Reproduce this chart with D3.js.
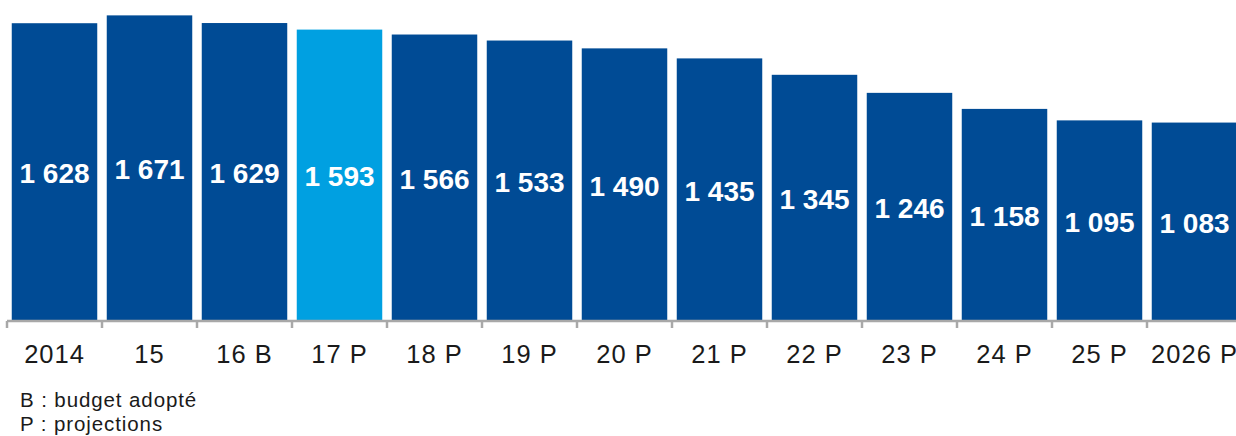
<!DOCTYPE html>
<html>
<head>
<meta charset="utf-8">
<script src="https://cdn.jsdelivr.net/npm/d3@7"></script>
<style>
  html, body { margin: 0; padding: 0; background: #fff; }
  svg { display: block; }
</style>
</head>
<body>
<svg id="chart" width="1236" height="436"></svg>
<script>
const categories = ["2014", "15", "16 B", "17 P", "18 P", "19 P", "20 P", "21 P", "22 P", "23 P", "24 P", "25 P", "2026 P"];
const values = [1628, 1671, 1629, 1593, 1566, 1533, 1490, 1435, 1345, 1246, 1158, 1095, 1083];
const highlighted = ["17 P"];
const footnotes = ["B : budget adopté", "P : projections"];

const svg = d3.select("#chart");
const baseY = 320;

const x = d3.scaleBand()
  .domain(categories)
  .range([7, 7 + categories.length * 95])
  .paddingInner(0.1)
  .paddingOuter(0.05);

const y = d3.scaleLinear()
  .domain([0, 1700])
  .range([baseY, baseY - 1700 * 0.1823]);

const fmt = d3.formatLocale({ decimal: ",", thousands: " ", grouping: [3], currency: ["", ""] }).format(",d");

const bars = svg.append("g");
bars.selectAll("rect")
  .data(categories)
  .join("rect")
  .attr("x", d => x(d))
  .attr("width", x.bandwidth())
  .attr("y", (d, i) => y(values[i]))
  .attr("height", (d, i) => y(0) - y(values[i]))
  .attr("fill", d => highlighted.includes(d) ? "#00A0E1" : "#004B95");

bars.selectAll("text")
  .data(categories)
  .join("text")
  .attr("x", d => x(d) + x.bandwidth() / 2)
  .attr("y", (d, i) => (y(values[i]) + y(0)) / 2 + 2)
  .attr("text-anchor", "middle")
  .attr("dominant-baseline", "central")
  .attr("fill", "#fff")
  .attr("font-family", "Liberation Sans, Arial, sans-serif")
  .attr("font-weight", "bold")
  .attr("font-size", 28)
  .text((d, i) => fmt(values[i]));

// axis
const axisG = svg.append("g").attr("transform", `translate(0,${baseY + 1})`);
const axis = d3.axisBottom(x).tickSize(0).tickSizeOuter(0);
axisG.call(axis);
axisG.select(".domain")
  .attr("d", `M${x.range()[0]},0H${x.range()[1]}`)
  .attr("stroke", "#a8a8a8")
  .attr("stroke-width", 2.5);
axisG.selectAll(".tick line").remove();
axisG.selectAll(".tick text")
  .attr("y", 0)
  .attr("dy", 0)
  .attr("transform", "translate(0,42)")
  .attr("fill", "#1a1a1a")
  .attr("font-family", "Liberation Sans, Arial, sans-serif")
  .attr("font-size", 25.5)
  .attr("letter-spacing", 1)
  .attr("dominant-baseline", "auto");

// boundary ticks between categories
const step = x.step();
axisG.selectAll("line.sep")
  .data(d3.range(categories.length))
  .join("line")
  .attr("class", "sep")
  .attr("x1", i => x.range()[0] + i * step)
  .attr("x2", i => x.range()[0] + i * step)
  .attr("y1", 0)
  .attr("y2", 7)
  .attr("stroke", "#a8a8a8")
  .attr("stroke-width", 2.5);

// footnotes
svg.append("g").selectAll("text")
  .data(footnotes)
  .join("text")
  .attr("x", 20)
  .attr("y", (d, i) => 407 + i * 24)
  .attr("fill", "#1a1a1a")
  .attr("font-family", "Liberation Sans, Arial, sans-serif")
  .attr("font-size", 20.5)
  .attr("letter-spacing", 0.9)
  .text(d => d);
</script>
</body>
</html>
